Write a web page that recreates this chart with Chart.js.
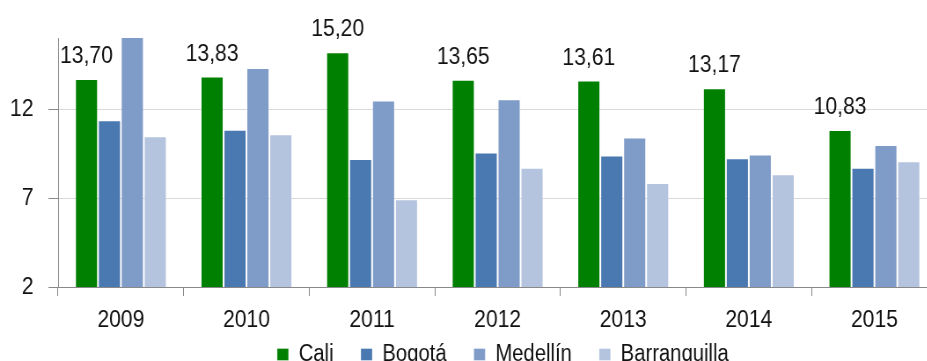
<!DOCTYPE html>
<html>
<head>
<meta charset="utf-8">
<script src="https://cdn.jsdelivr.net/npm/chart.js@4"></script>
<style>
  html, body { margin: 0; padding: 0; background: #fff; overflow: hidden; }
  /* text in this chart is set narrow, so the whole canvas is squeezed horizontally */
  #wrap { width: 1065px; height: 399px; transform: scaleX(0.88); transform-origin: 0 0; }
</style>
</head>
<body>
<div id="wrap"><canvas id="cityChart"></canvas></div>
<script>
const years = ['2009', '2010', '2011', '2012', '2013', '2014', '2015'];
const cali = [13.70, 13.83, 15.20, 13.65, 13.61, 13.17, 10.83];
const bogota = [11.38, 10.84, 9.19, 9.56, 9.39, 9.24, 8.70];
const medellin = [16.10, 14.31, 12.49, 12.56, 10.41, 9.45, 9.99];
const barranquilla = [10.48, 10.59, 6.94, 8.70, 7.85, 8.34, 9.07];
const yTicks = [2, 7, 12];

const axisGray = '#898989';
const textColor = '#111';

Chart.defaults.font.family = '"Liberation Sans", Arial, sans-serif';

// Cali values written above its bars, with a decimal comma
const caliLabels = {
  id: 'caliLabels',
  afterDatasetsDraw(chart) {
    const ctx = chart.ctx;
    const meta = chart.getDatasetMeta(0);
    ctx.save();
    ctx.font = '24px "Liberation Sans", Arial, sans-serif';
    ctx.fillStyle = textColor;
    ctx.textAlign = 'center';
    ctx.textBaseline = 'alphabetic';
    meta.data.forEach((bar, i) => {
      ctx.fillText(cali[i].toFixed(2).replace('.', ','), bar.x, bar.y - 16);
    });
    ctx.restore();
  }
};

// legend sits a bit right of the canvas centre and tucked up under the year labels
const legendShift = {
  id: 'legendShift',
  afterLayout(chart) {
    const legend = chart.legend;
    legend.left += 39;
    legend.right += 39;
    legend.top -= 23;
    legend.bottom -= 23;
  }
};

const makeSet = (label, data, color) => ({
  label,
  data,
  backgroundColor: color,
  borderColor: 'rgba(255,255,255,0.35)',
  borderWidth: 1
});

new Chart(document.getElementById('cityChart'), {
  type: 'bar',
  data: {
    labels: years,
    datasets: [
      makeSet('Cali', cali, '#008000'),
      makeSet('Bogotá', bogota, '#4a78b0'),
      makeSet('Medellín', medellin, '#7f9bc7'),
      makeSet('Barranquilla', barranquilla, '#b4c3de')
    ]
  },
  options: {
    responsive: true,
    maintainAspectRatio: false,
    animation: false,
    layout: { padding: { top: 38, left: 0, right: 0, bottom: 0 } },
    datasets: {
      bar: { categoryPercentage: 0.73, barPercentage: 1 }
    },
    scales: {
      x: {
        grid: { drawOnChartArea: false, drawTicks: true, tickLength: 9, tickColor: axisGray },
        border: { color: axisGray },
        ticks: { color: textColor, font: { size: 24 }, padding: 10, maxRotation: 0 },
        afterFit: (scale) => { scale.height = 48; }
      },
      y: {
        min: 2,
        max: 16,
        afterBuildTicks: (scale) => { scale.ticks = yTicks.map((value) => ({ value })); },
        afterFit: (scale) => { scale.width = 66; },
        grid: { color: '#d9d9d9', tickColor: axisGray, tickLength: 11 },
        border: { color: axisGray },
        ticks: { color: textColor, font: { size: 24 }, padding: 17 }
      }
    },
    plugins: {
      legend: {
        position: 'bottom',
        labels: { boxWidth: 13, boxHeight: 12, color: textColor, font: { size: 23 }, padding: 31 }
      },
      tooltip: { enabled: false }
    }
  },
  plugins: [caliLabels, legendShift]
});
</script>
</body>
</html>
